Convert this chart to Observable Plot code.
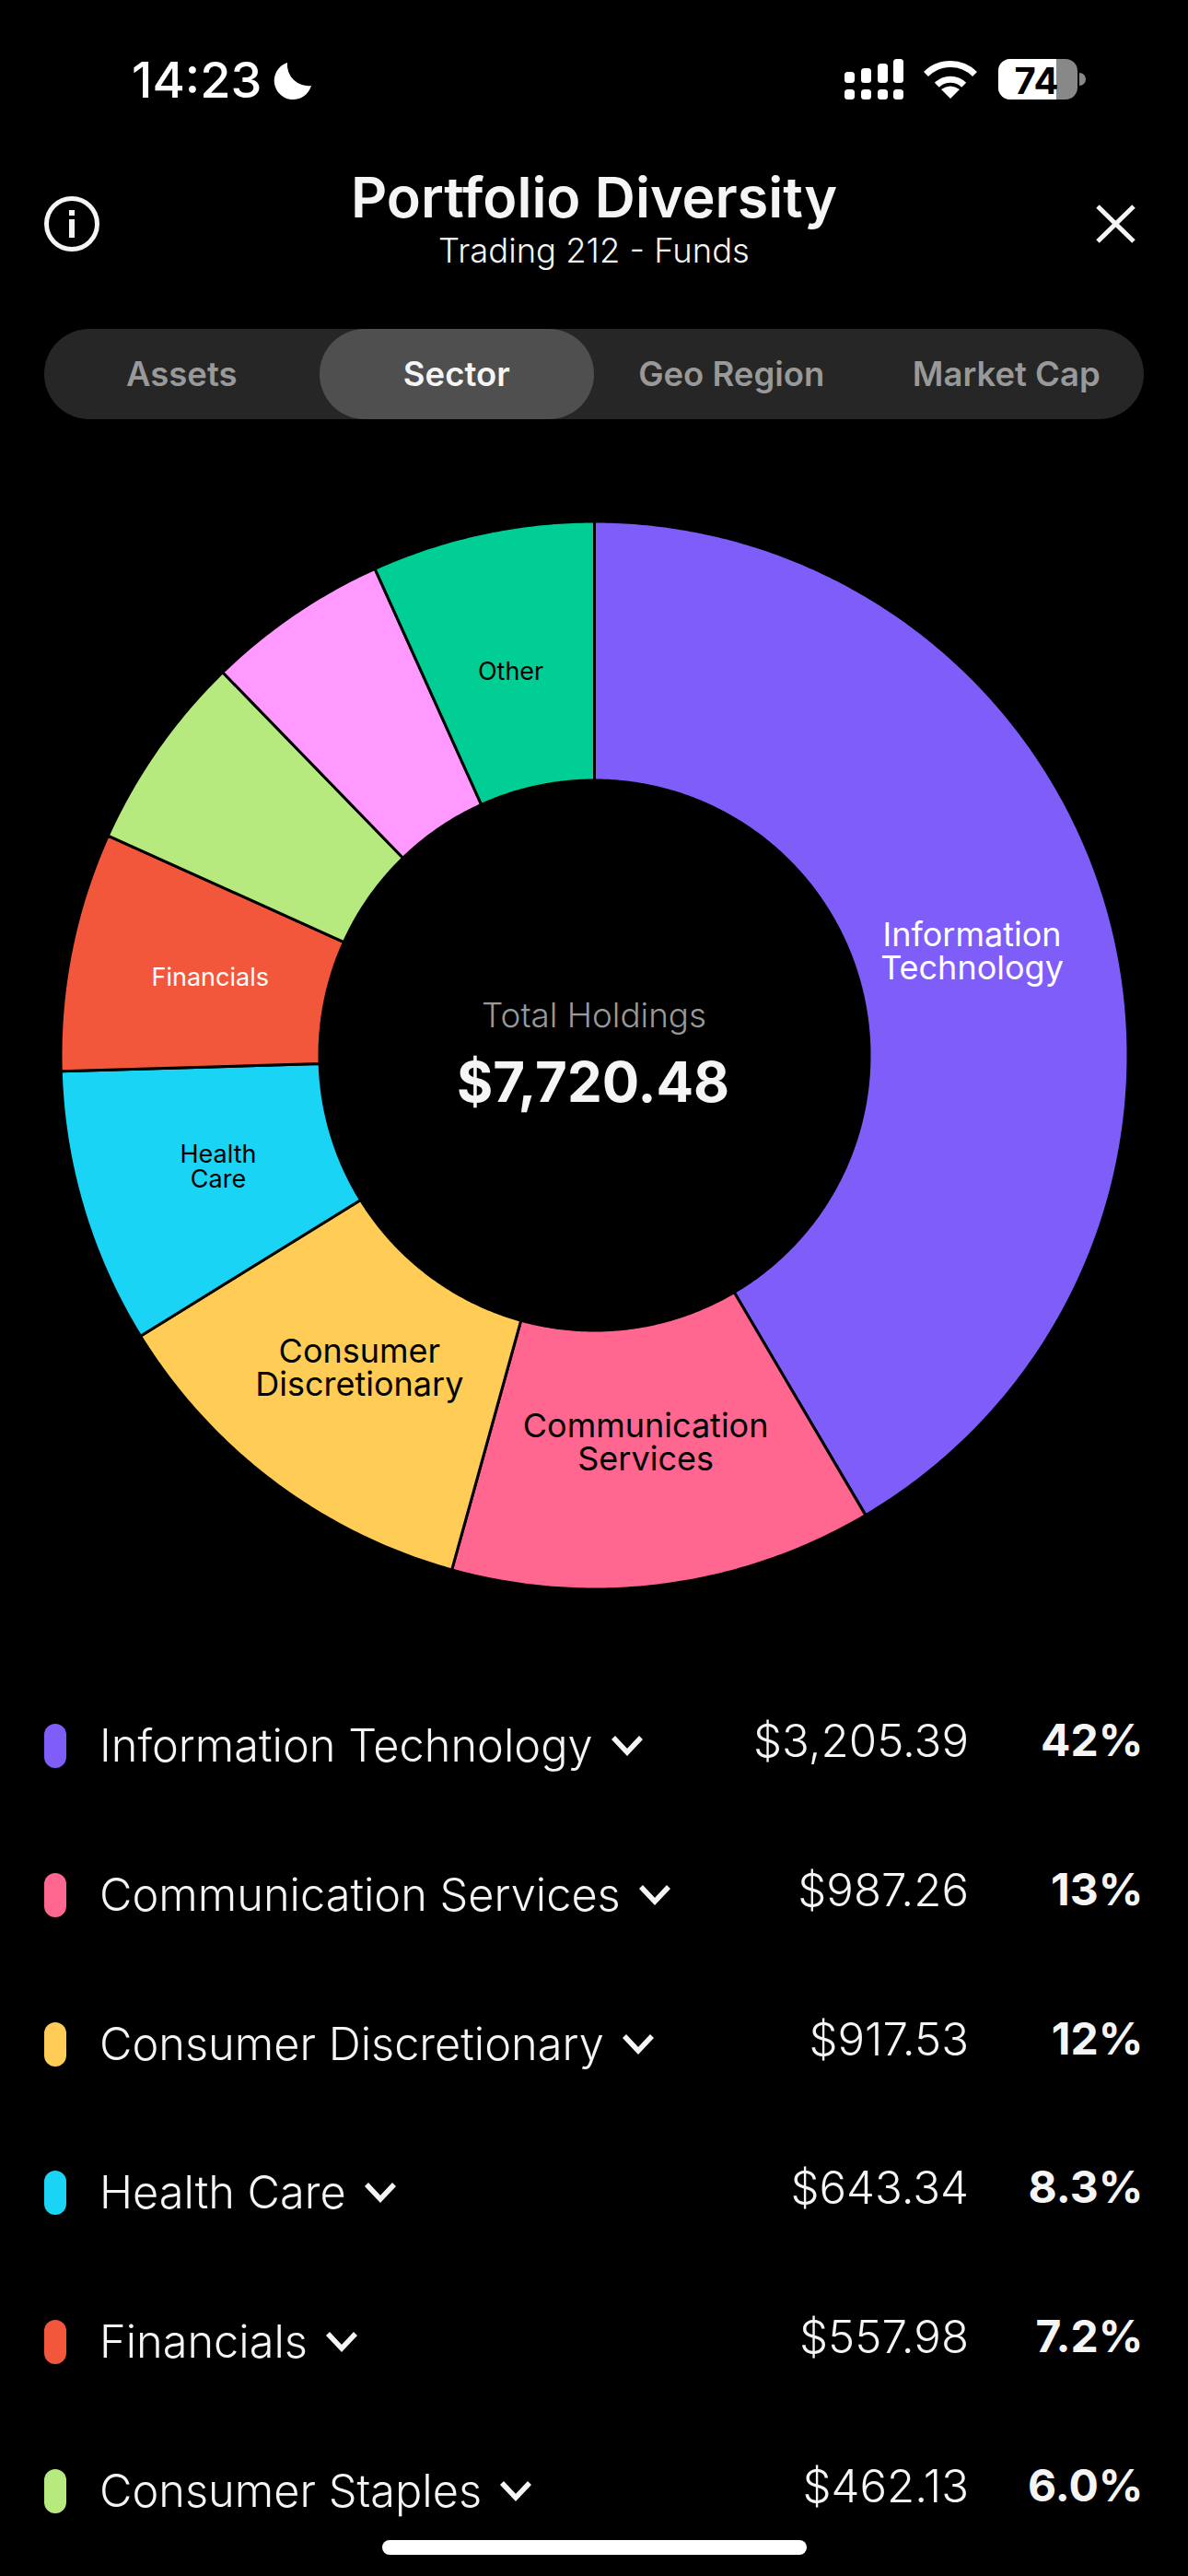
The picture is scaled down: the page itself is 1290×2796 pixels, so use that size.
<!DOCTYPE html>
<html><head><meta charset="utf-8">
<script src="https://cdn.jsdelivr.net/npm/d3@7"></script>
<script src="https://cdn.jsdelivr.net/npm/@observablehq/plot@0.6"></script>
<style>
html,body{margin:0;padding:0;background:#000;width:1290px;height:2796px;overflow:hidden;font-family:Inter,"Noto Sans",sans-serif;color:#f5f5f5}
.abs{position:absolute;white-space:nowrap;line-height:1}
.c{transform:translateX(-50%)}
#chart{position:absolute;left:0;top:545px;width:1290px;height:1200px}
#chart svg{display:block}
.tab{position:absolute;top:0;height:98px;line-height:98px;width:298.5px;text-align:center;font-size:36.5px;font-weight:600;color:#999}
.row{position:absolute;left:0;width:1290px;height:48px}
.sw{position:absolute;left:48px;top:0;width:24px;height:48px;border-radius:12px}
.nm{position:absolute;left:108px;top:0;line-height:48px;font-size:48.7px;font-weight:300;display:flex;align-items:center;white-space:nowrap}
.nm svg{margin-left:19px;margin-top:0}
.am{position:absolute;right:238px;top:-6px;line-height:48px;font-size:49.2px;font-weight:300}
.pc{position:absolute;right:48.5px;top:-6px;line-height:48px;font-size:48px;font-weight:700}
</style></head><body>
<div class="abs" style="left:143px;top:60px;font-size:54px;font-weight:500;color:#fff">14:23</div>
<svg class="abs" style="left:0;top:0" width="1290" height="300">
  <path d="M312 68A20.5 20.5 0 1 0 338 93A23 23 0 0 1 312 68Z" fill="#fff"/>
  <g fill="#fff">
    <rect x="917" y="78" width="11" height="12" rx="3.5"/><rect x="935" y="74" width="11" height="16" rx="3.5"/><rect x="953" y="69" width="11" height="21" rx="3.5"/><rect x="970" y="64" width="11" height="26" rx="3.5"/>
    <rect x="917" y="97" width="11" height="11" rx="3.5"/><rect x="935" y="97" width="11" height="11" rx="3.5"/><rect x="953" y="97" width="11" height="11" rx="3.5"/><rect x="970" y="97" width="11" height="11" rx="3.5"/>
    <path d="M1032 107L1022 97Q1032 90 1042 97Z"/>
  </g>
  <g fill="none" stroke="#fff" stroke-width="7">
    <path d="M1017.3 92.3A20.8 20.8 0 0 1 1046.7 92.3"/>
    <path d="M1005.5 80.5A37.5 37.5 0 0 1 1058.5 80.5"/>
  </g>
  <rect x="1084" y="64" width="86" height="44" rx="13" fill="#888"/>
  <path d="M1097 64H1147V108H1097A13 13 0 0 1 1084 95V77A13 13 0 0 1 1097 64Z" fill="#fff"/>
  <path d="M1172 79A7 7 0 0 1 1172 93Z" fill="#888"/>
  <text x="1125.5" y="102" text-anchor="middle" font-size="40" font-weight="700" fill="#000" font-family="Inter">74</text>
  <circle cx="78" cy="243" r="27.5" fill="none" stroke="#f5f5f5" stroke-width="5"/>
  <rect x="75" y="238" width="6" height="20" fill="#f5f5f5"/><rect x="75" y="228" width="6" height="6" fill="#f5f5f5"/>
  <path d="M1192 224L1231 262M1231 224L1192 262" stroke="#f5f5f5" stroke-width="5" fill="none"/>
</svg>
<div class="abs c" style="left:645px;top:183.5px;font-size:61px;font-weight:600">Portfolio Diversity</div>
<div class="abs c" style="left:645px;top:254px;font-size:36.4px;font-weight:300">Trading 212 - Funds</div>
<div id="tabs" class="abs" style="left:48px;top:357px;width:1194px;height:98px;border-radius:49px;background:#262626"></div>
<div id="chart"></div>
<div id="legend"></div>
<div class="abs" style="left:415px;top:2757px;width:461px;height:16px;border-radius:8px;background:#fff"></div>
<script>
// Values
const tabNames = ["Assets", "Sector", "Geo Region", "Market Cap"];
const selectedTab = "Sector";
const sectors = ["Information Technology", "Communication Services", "Consumer Discretionary", "Health Care", "Financials", "Consumer Staples", "Materials", "Other"];
const amounts = [3205.39, 987.26, 917.53, 643.34, 557.98, 462.13, 425.85, 521]; // last two; off-screen in the list
const percents = ["42%", "13%", "12%", "8.3%", "7.2%", "6.0%"];
const colors = ["#7f5df9", "#ff6690", "#ffcc55", "#19d4f5", "#f2573c", "#b6ea7f", "#ff99ff", "#00ce94"];
const sliceLabels = ["Information\nTechnology", "Communication\nServices", "Consumer\nDiscretionary", "Health\nCare", "Financials", "", "", "Other"];
const labelColors = ["white", "black", "black", "black", "white", "black", "black", "black"];
const labelSizes = [36, 36, 36, 27, 27, 27, 27, 27];
const totalLabel = "Total Holdings";
const totalValue = 7720.48;

const fmt = d3.format("$,.2f");
const outer = 579.5, inner = 298.5, labelR = 425;
const total = d3.sum(amounts);
let acc = 0;
const slices = sectors.map((sector, i) => {
  const a0 = acc / total * 2 * Math.PI; acc += amounts[i];
  const a1 = acc / total * 2 * Math.PI;
  return {sector, a0, a1, mid: (a0 + a1) / 2, label: sliceLabels[i], lc: labelColors[i], ls: labelSizes[i]};
});
// ring outline of each slice, in chart units centred on 0,0
const ring = slices.flatMap(s => {
  const n = Math.max(2, Math.ceil((s.a1 - s.a0) * 120)), pts = [];
  for (let k = 0; k <= n; k++) { const a = s.a0 + (s.a1 - s.a0) * k / n; pts.push({sector: s.sector, x: outer * Math.sin(a), y: outer * Math.cos(a)}); }
  for (let k = n; k >= 0; k--) { const a = s.a0 + (s.a1 - s.a0) * k / n; pts.push({sector: s.sector, x: inner * Math.sin(a), y: inner * Math.cos(a)}); }
  return pts;
});
const labelled = slices.filter(s => s.label).map(s => ({...s, x: labelR * Math.sin(s.mid), y: labelR * Math.cos(s.mid)}));
const labelMark = (list, color, size, lh, dx, dy) => Plot.text(list.filter(d => d.lc === color && d.ls === size), {
  x: "x", y: "y", text: "label", fill: color, fontSize: size, lineHeight: lh, fontFamily: "Inter", fontWeight: 400, textAnchor: "middle", dx, dy
});

const plot = Plot.plot({
  width: 1290, height: 1200, margin: 0,
  style: {background: "transparent", fontFamily: "Inter"},
  x: {domain: [-645, 645], range: [0, 1290], axis: null},
  y: {domain: [-600, 600], range: [1200, 0], axis: null},
  color: {domain: sectors, range: colors},
  marks: [
    Plot.line(ring, {x: "x", y: "y", z: "sector", fill: "sector", stroke: "#000", strokeWidth: 3, curve: "linear-closed"}),
    labelMark(labelled, "white", 36, 1, 0, 0),
    labelMark(labelled, "black", 36, 1, 0, 0),
    labelMark(labelled, "white", 27, 1, -0.5, -0.5),
    labelMark(labelled, "black", 27, 1, -1.5, -1),
    Plot.text([totalLabel], {x: -0.5, y: 42, text: d => d, fill: "#999", fontSize: 36.8, fontWeight: 300, fontFamily: "Inter", textAnchor: "middle"}),
    Plot.text([totalValue], {x: -1.5, y: -31, text: d => fmt(d), fill: "#f5f5f5", fontSize: 60, fontWeight: 700, fontFamily: "Inter", textAnchor: "middle"})
  ]
});
document.getElementById("chart").append(plot);

const tabs = document.getElementById("tabs");
tabNames.forEach((t, i) => {
  const e = document.createElement("div");
  e.className = "tab"; e.textContent = t; e.style.left = (i * 298.5) + "px";
  if (t === selectedTab) { e.style.background = "#4f4f4f"; e.style.color = "#f5f5f5"; e.style.borderRadius = "49px"; }
  tabs.append(e);
});

const legend = document.getElementById("legend");
const chev = '<svg width="36" height="24" viewBox="0 0 36 24"><path d="M3 3L18 19L33 3" fill="none" stroke="#f5f5f5" stroke-width="5.5"/></svg>';
percents.forEach((p, i) => {
  const r = document.createElement("div");
  r.className = "row"; r.style.top = (1871 + i * 161.8) + "px";
  r.innerHTML = `<div class="sw" style="background:${colors[i]}"></div><div class="nm">${sectors[i]}${chev}</div><div class="am">${fmt(amounts[i])}</div><div class="pc">${p}</div>`;
  legend.append(r);
});
</script>
</body></html>
